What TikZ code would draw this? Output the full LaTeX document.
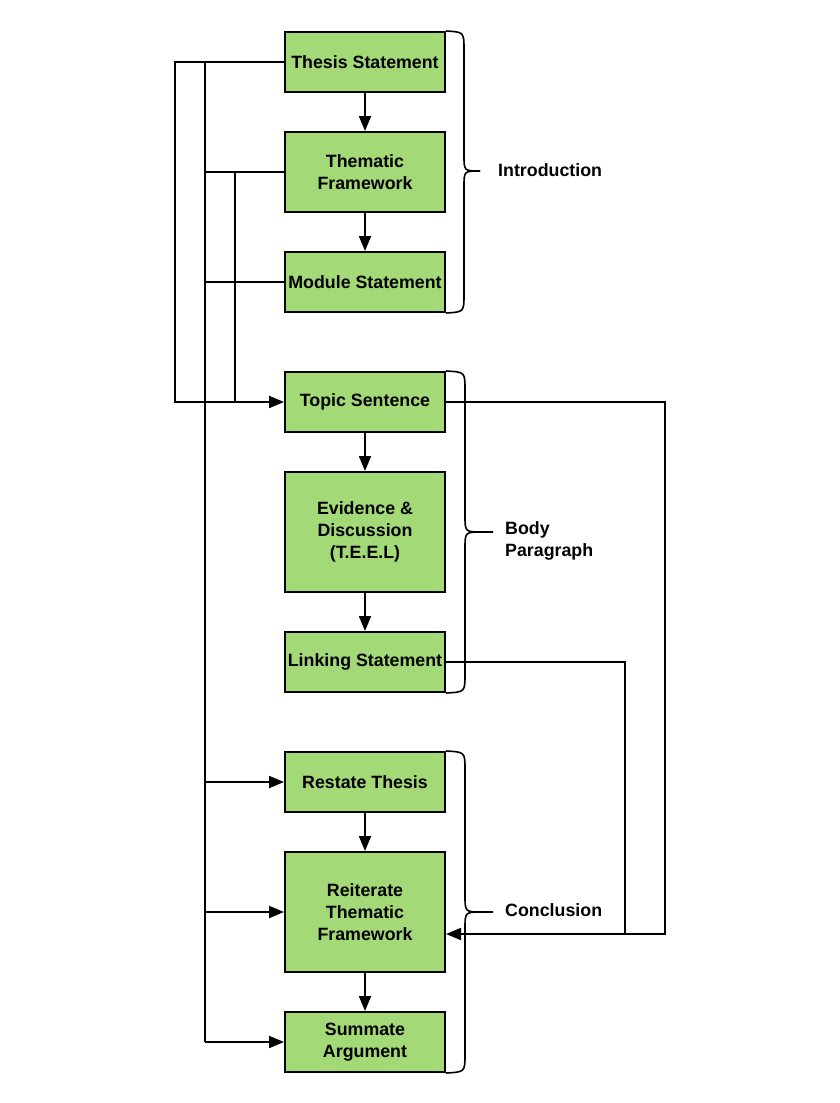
\documentclass[tikz,border=0pt]{standalone}
\usepackage{fontspec}
\setmainfont{Liberation Sans}
\usetikzlibrary{arrows.meta,calc}
\definecolor{boxgreen}{HTML}{A3D977}
\tikzset{
  box/.style={draw=black, line width=2pt, fill=boxgreen, minimum width=160pt, inner sep=0pt, align=center,
    font=\bfseries\fontsize{17.8}{22}\selectfont},
  lbl/.style={anchor=west, align=left, inner sep=0pt, font=\bfseries\fontsize{17.8}{22}\selectfont},
  conn/.style={line width=2pt},
  arr/.style={line width=2pt, -{Triangle[length=15pt,width=12pt]}},
  brace/.style={line width=1.6pt}
}
\begin{document}
\begin{tikzpicture}[x=1pt,y=-1pt]
\useasboundingbox (0,0) rectangle (840,1103);
% boxes
\node[box, minimum height=60pt]  (ts) at (365,62)  {Thesis Statement};
\node[box, minimum height=80pt]  (tf) at (365,172) {Thematic\\Framework};
\node[box, minimum height=60pt]  (ms) at (365,282) {Module Statement};
\node[box, minimum height=60pt]  (tp) at (365,402) {Topic Sentence};
\node[box, minimum height=120pt] (ev) at (365,532) {Evidence \&\\Discussion\\(T.E.E.L)};
\node[box, minimum height=60pt]  (ls) at (365,662) {Linking Statement};
\node[box, minimum height=60pt]  (rt) at (365,782) {Restate Thesis};
\node[box, minimum height=120pt] (rf) at (365,912) {Reiterate\\Thematic\\Framework};
\node[box, minimum height=60pt]  (sa) at (365,1042) {Summate\\Argument};
% labels
\node[lbl] (intro) at (498,170) {Introduction};
\node[lbl] (body)  at (505,541) {Body\\Paragraph};
\node[lbl] (concl) at (505,910) {Conclusion};
% vertical arrows
\draw[arr] (ts.south) -- (tf.north);
\draw[arr] (tf.south) -- (ms.north);
\draw[arr] (tp.south) -- (ev.north);
\draw[arr] (ev.south) -- (ls.north);
\draw[arr] (rt.south) -- (rf.north);
\draw[arr] (rf.south) -- (sa.north);
% left connectors
\coordinate (L1) at (175,0);
\coordinate (L2) at (205,0);
\coordinate (L3) at (235,0);
\draw[arr] (ts.west) -- (ts.west -| L1) -- (tp.west -| L1) -- (tp.west);
\draw[conn] (ts.west -| L2) -- (sa.west -| L2);
\draw[conn] (tf.west) -- (tf.west -| L2);
\draw[conn] (tf.west -| L3) -- (tp.west -| L3);
\draw[conn] (ms.west) -- (ms.west -| L2);
\draw[arr] (rt.west -| L2) -- (rt.west);
\draw[arr] (rf.west -| L2) -- (rf.west);
\draw[arr] (sa.west -| L2) -- (sa.west);
% right connectors
\coordinate (R1) at (665,0);
\coordinate (R2) at (625,0);
\coordinate (rin) at ($(rf.east)+(0,22)$);
\draw[arr] (tp.east) -- (tp.east -| R1) -- (rin -| R1) -- (rin);
\draw[conn] (ls.east) -- (ls.east -| R2) -- (rin -| R2);
% braces
\draw[brace] (ts.north east) .. controls (464,32) .. (464,50) -- (464,155)
  .. controls (464,171) .. (480,171);
\draw[brace] (ms.south east) .. controls (464,312) .. (464,294) -- (464,187)
  .. controls (464,171) .. (480,171);
\draw[brace] (tp.north east) .. controls (465,372) .. (465,390) -- (465,515)
  .. controls (465,532) .. (482,532) -- (493,532);
\draw[brace] (ls.south east) .. controls (465,692) .. (465,674) -- (465,549)
  .. controls (465,532) .. (482,532);
\draw[brace] (rt.north east) .. controls (465,752) .. (465,770) -- (465,895)
  .. controls (465,912) .. (482,912) -- (493,912);
\draw[brace] (sa.south east) .. controls (465,1072) .. (465,1054) -- (465,929)
  .. controls (465,912) .. (482,912);
\end{tikzpicture}
\end{document}
